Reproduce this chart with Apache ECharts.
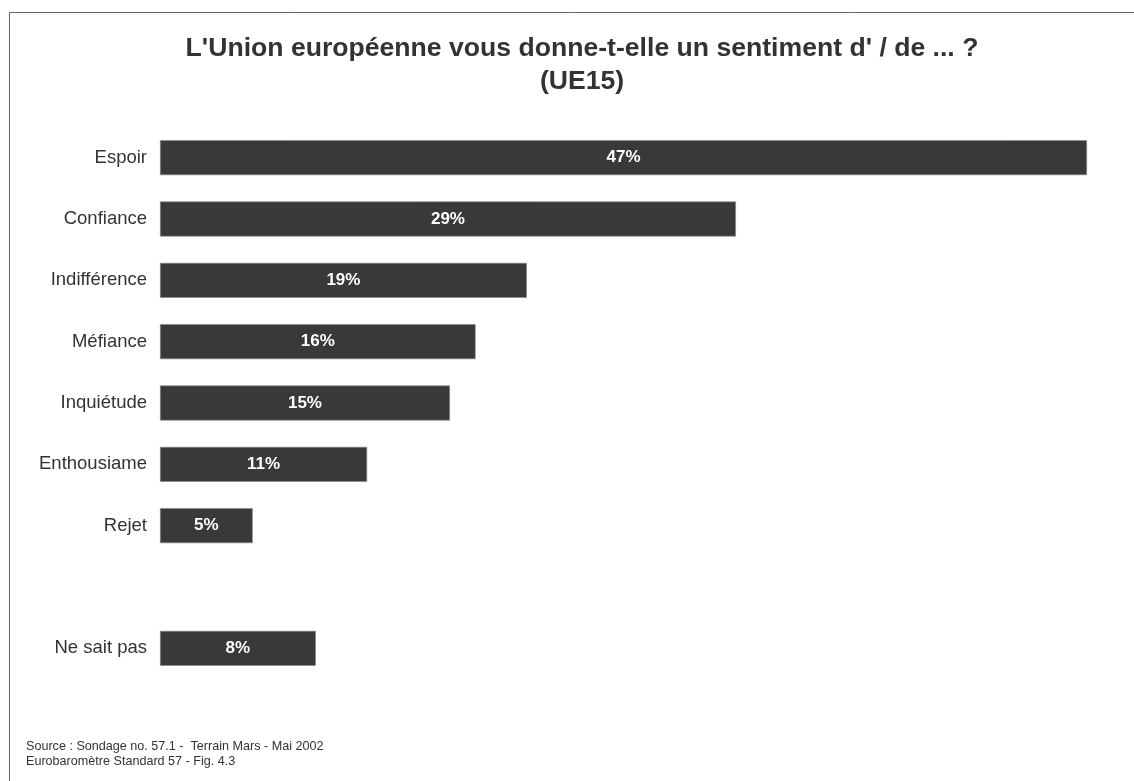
<!DOCTYPE html>
<html lang="fr">
<head>
  <meta charset="UTF-8">
  <title>Sentiment UE</title>
  <style>
    html, body { margin: 0; padding: 0; background: #fff; }
    #chart { width: 1134px; height: 781px; }
  </style>
  <script src="https://cdn.jsdelivr.net/npm/echarts@6/dist/echarts.min.js"></script>
</head>
<body>
  <div id="chart"></div>
  <script>
    // categories top to bottom, '' is the blank row before "Ne sait pas"
    const categories = ['Espoir', 'Confiance', 'Indifférence', 'Méfiance', 'Inquiétude', 'Enthousiame', 'Rejet', '', 'Ne sait pas'];
    // bar lengths (labels show them rounded)
    const values = [47, 29.2, 18.6, 16, 14.7, 10.5, 4.7, null, 7.9];
    const sourceLines = ['Source : Sondage no. 57.1 -  Terrain Mars - Mai 2002', 'Eurobaromètre Standard 57 - Fig. 4.3'];

    const chart = echarts.init(document.getElementById('chart'));
    chart.setOption({
      animation: false,
      textStyle: { fontFamily: 'Liberation Sans, Arial, sans-serif' },
      title: {
        text: "L'Union européenne vous donne-t-elle un sentiment d' / de ... ?\n(UE15)",
        left: 577,
        top: 27,
        textAlign: 'center',
        textStyle: { fontSize: 26.6, fontWeight: 'bold', color: '#333', lineHeight: 33 }
      },
      graphic: [
        {
          type: 'rect',
          shape: { x: 9.5, y: 12.5, width: 1200, height: 800 },
          style: { fill: 'none', stroke: '#666', lineWidth: 1 },
          silent: true
        },
        {
          type: 'text',
          left: 26,
          top: 739,
          style: { text: sourceLines.join('\n'), fontSize: 12.6, lineHeight: 15, fill: '#333', fontFamily: 'Liberation Sans, Arial, sans-serif' }
        }
      ],
      grid: { left: 160, right: 47, top: 127, height: 552, containLabel: false },
      xAxis: { type: 'value', min: 0, max: 47, show: false },
      yAxis: {
        type: 'category',
        data: categories,
        inverse: true,
        axisLine: { show: false },
        axisTick: { show: false },
        axisLabel: { fontSize: 18.5, color: '#333', margin: 13 }
      },
      series: [{
        type: 'bar',
        data: values,
        barWidth: 35,
        itemStyle: { color: '#39393b', borderColor: '#8a8a8a', borderWidth: 0.6 },
        label: {
          show: true,
          position: 'inside',
          color: '#fff',
          fontWeight: 'bold',
          fontSize: 17,
          formatter: p => Math.round(p.value) + '%'
        }
      }]
    });
  </script>
</body>
</html>
